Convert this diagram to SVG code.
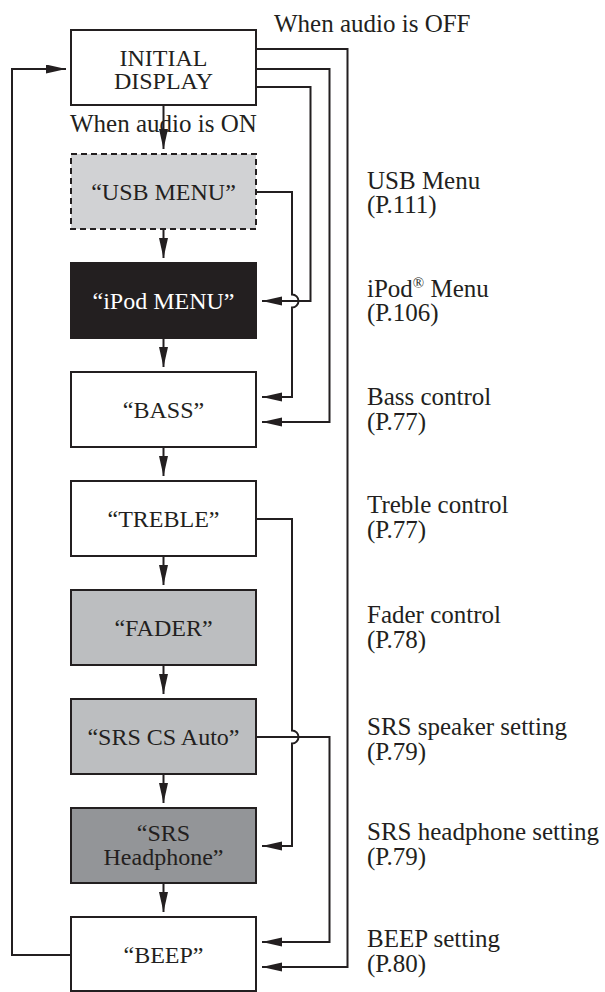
<svg xmlns="http://www.w3.org/2000/svg" width="605" height="992" viewBox="0 0 605 992">
<style>
.box{stroke:#231f20;stroke-width:2;fill:#ffffff}
.t{font-family:"Liberation Serif","Times New Roman",serif;font-size:24px;fill:#231f20;text-anchor:middle}
.lbl{font-family:"Liberation Serif","Times New Roman",serif;font-size:25px;fill:#231f20}
.c{fill:none;stroke:#231f20;stroke-width:2}
</style>
<defs>
<marker id="ah" markerUnits="userSpaceOnUse" markerWidth="20" markerHeight="10" refX="20" refY="4.5" orient="auto">
<path d="M0,0 L20,4.5 L0,9 z" fill="#231f20"/>
</marker>
</defs>
<rect width="605" height="992" fill="#ffffff"/>
<g id="n-initial">
<rect class="box" x="71" y="30" width="185" height="75"/>
<text class="t" x="163.5" y="66">INITIAL</text>
<text class="t" x="163.5" y="89">DISPLAY</text>
</g>
<g id="n-usb">
<rect class="box" x="71" y="154" width="185" height="75" fill="#d1d2d4" style="fill:#d1d2d4" stroke-dasharray="6 4"/>
<text class="t" x="163.5" y="200">“USB MENU”</text>
</g>
<g id="n-ipod">
<rect class="box" x="71" y="263" width="185" height="75" style="fill:#231f20"/>
<text class="t" x="163.5" y="309" style="fill:#ffffff">“iPod MENU”</text>
</g>
<g id="n-bass">
<rect class="box" x="71" y="372" width="185" height="75"/>
<text class="t" x="163.5" y="418">“BASS”</text>
</g>
<g id="n-treble">
<rect class="box" x="71" y="481" width="185" height="75"/>
<text class="t" x="163.5" y="527">“TREBLE”</text>
</g>
<g id="n-fader">
<rect class="box" x="71" y="590" width="185" height="75" style="fill:#bcbec0"/>
<text class="t" x="163.5" y="636">“FADER”</text>
</g>
<g id="n-srscs">
<rect class="box" x="71" y="699" width="185" height="75" style="fill:#bcbec0"/>
<text class="t" x="163.5" y="745">“SRS CS Auto”</text>
</g>
<g id="n-srshp">
<rect class="box" x="71" y="808" width="185" height="75" style="fill:#939598"/>
<text class="t" x="163.5" y="841">“SRS</text>
<text class="t" x="163.5" y="865">Headphone”</text>
</g>
<g id="n-beep">
<rect class="box" x="71" y="917" width="185" height="74"/>
<text class="t" x="163.5" y="963">“BEEP”</text>
</g>
<g id="connectors">
<path class="c" d="M163.5,105 V149" marker-end="url(#ah)"/>
<path class="c" d="M163.5,229 V258" marker-end="url(#ah)"/>
<path class="c" d="M163.5,338 V367" marker-end="url(#ah)"/>
<path class="c" d="M163.5,447 V476" marker-end="url(#ah)"/>
<path class="c" d="M163.5,556 V585" marker-end="url(#ah)"/>
<path class="c" d="M163.5,665 V694" marker-end="url(#ah)"/>
<path class="c" d="M163.5,774 V803" marker-end="url(#ah)"/>
<path class="c" d="M163.5,883 V912" marker-end="url(#ah)"/>
<path class="c" d="M71,955 H12 V69 H66" marker-end="url(#ah)"/>
<path class="c" d="M256,49 H347.5 V967 H262" marker-end="url(#ah)"/>
<path class="c" d="M256,69 H329.5 V422 H262" marker-end="url(#ah)"/>
<path class="c" d="M256,87 H310.5 V301 H262" marker-end="url(#ah)"/>
<path class="c" d="M256,192 H292 V294.5 A6.5,6.5 0 0 1 292,307.5 V397 H262" marker-end="url(#ah)"/>
<path class="c" d="M256,519 H292 V730.5 A6.5,6.5 0 0 1 292,743.5 V846 H262" marker-end="url(#ah)"/>
<path class="c" d="M256,737 H329.5 V942 H262" marker-end="url(#ah)"/>
</g>
<g id="labels">
<text class="lbl" x="274" y="32">When audio is OFF</text>
<text class="lbl" x="70" y="132">When audio is ON</text>
<text class="lbl" x="367" y="189">USB Menu</text>
<text class="lbl" x="367" y="213">(P.111)</text>
<text class="lbl" x="367" y="297">iPod<tspan font-size="15" dy="-9">®</tspan><tspan dy="9"> Menu</tspan></text>
<text class="lbl" x="367" y="321">(P.106)</text>
<text class="lbl" x="367" y="405">Bass control</text>
<text class="lbl" x="367" y="430">(P.77)</text>
<text class="lbl" x="367" y="513">Treble control</text>
<text class="lbl" x="367" y="538">(P.77)</text>
<text class="lbl" x="367" y="623">Fader control</text>
<text class="lbl" x="367" y="648">(P.78)</text>
<text class="lbl" x="367" y="735">SRS speaker setting</text>
<text class="lbl" x="367" y="760">(P.79)</text>
<text class="lbl" x="367" y="840">SRS headphone setting</text>
<text class="lbl" x="367" y="865">(P.79)</text>
<text class="lbl" x="367" y="947">BEEP setting</text>
<text class="lbl" x="367" y="972">(P.80)</text>
</g>
</svg>
